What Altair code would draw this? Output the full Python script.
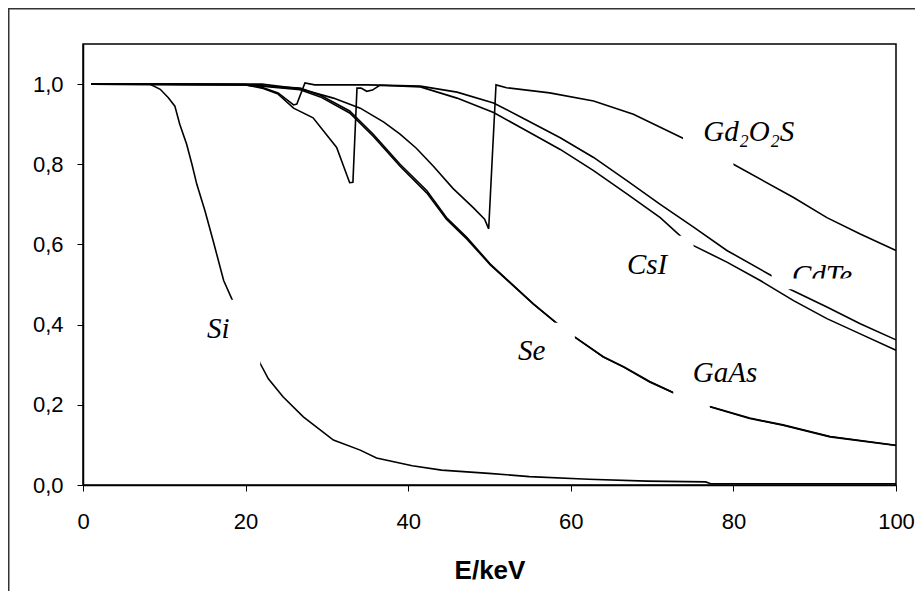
import altair as alt
import pandas as pd

# ---- curve data (E in keV, absorption efficiency) ----
si_x = [1, 5, 8.2, 9.5, 10.5, 11.3, 11.9, 12.75, 13.4, 14.0, 15.0, 16.0, 17.3, 18.4, 21.8, 22.8, 24.6, 27.1, 30.8, 34.1, 36.1, 40.5, 44.1, 49.9, 54.9, 62.2, 69.4, 76.6, 77.2, 85, 100]
si_y = [1.0, 1.0, 1.0, 0.987, 0.966, 0.945, 0.90, 0.85, 0.80, 0.75, 0.684, 0.61, 0.51, 0.46, 0.303, 0.265, 0.22, 0.17, 0.112, 0.087, 0.0675, 0.048, 0.037, 0.029, 0.021, 0.0145, 0.0096, 0.0077, 0.003, 0.003, 0.003]

gaas_x = [1, 10, 20, 22, 24, 26.7, 29.2, 32.8, 35.7, 39.0, 42.3, 44.7, 47.2, 50.1, 52.5, 55.4, 58.1, 60.5, 64.0, 66.5, 69.7, 72.6, 77.1, 82.0, 86.1, 91.9, 100]
gaas_y = [1.0, 1.0, 0.999, 0.996, 0.993, 0.99, 0.972, 0.933, 0.875, 0.80, 0.734, 0.667, 0.618, 0.551, 0.506, 0.452, 0.406, 0.369, 0.319, 0.294, 0.257, 0.23, 0.195, 0.166, 0.149, 0.12, 0.0985]

se_x = [1, 10, 20, 22, 24, 26.7, 29.2, 32.8, 35.7, 39.0, 42.3, 44.7, 47.2, 50.1, 52.5, 55.4, 58.1, 60.5, 64.0, 66.5, 69.7, 72.6, 77.1, 82.0, 86.1, 91.9, 100]
se_y = [1.0, 1.0, 0.999, 0.995, 0.991, 0.986, 0.968, 0.928, 0.870, 0.795, 0.728, 0.663, 0.614, 0.549, 0.505, 0.451, 0.406, 0.369, 0.320, 0.295, 0.258, 0.231, 0.196, 0.167, 0.150, 0.121, 0.099]

csi_x = [1, 20, 22, 24, 25.9, 28.3, 31.2, 32.8, 33.2, 33.7, 34.2, 34.9, 35.6, 36.5, 41.5, 46.0, 50.5, 54.0, 58.7, 62.8, 66.9, 71.0, 73.6, 75.1, 79.2, 83.3, 87.4, 91.5, 95.6, 100]
csi_y = [1.0, 0.998, 0.99, 0.975, 0.94, 0.916, 0.842, 0.754, 0.755, 0.99, 0.99, 0.982, 0.985, 0.997, 0.993, 0.965, 0.929, 0.89, 0.837, 0.784, 0.726, 0.667, 0.619, 0.597, 0.556, 0.51, 0.46, 0.415, 0.377, 0.336]

cdte_x = [1, 20, 22, 24, 25.9, 26.3, 27.3, 28.5, 35.0, 41.5, 46.0, 50.5, 54.6, 58.7, 62.8, 66.9, 71.0, 75.1, 79.2, 84.7, 86.9, 91.5, 95.6, 100]
cdte_y = [1.0, 0.998, 0.992, 0.978, 0.948, 0.95, 1.003, 0.998, 0.998, 0.995, 0.98, 0.953, 0.91, 0.866, 0.817, 0.759, 0.70, 0.643, 0.585, 0.522, 0.489, 0.444, 0.402, 0.362]

gd_x = [1, 22, 26.7, 30.8, 34.1, 37.0, 39.0, 41.0, 43.1, 45.5, 48.0, 49.4, 49.9, 50.3, 50.8, 52.1, 57.4, 62.8, 67.7, 73.8, 80.0, 87.4, 91.5, 95.6, 100]
gd_y = [1.0, 1.0, 0.988, 0.965, 0.94, 0.905, 0.875, 0.84, 0.795, 0.74, 0.692, 0.663, 0.639, 0.80, 0.998, 0.991, 0.978, 0.958, 0.925, 0.865, 0.80, 0.717, 0.667, 0.626, 0.585]

# ---- curve labels ----
label_text = ["Gd\u2082O\u2082S", "CsI", "CdTe", "Se", "GaAs", "Si"]
label_x = [76.3, 66.9, 87.2, 53.5, 75.0, 15.25]
label_y = [0.858, 0.527, 0.4995, 0.311, 0.256, 0.366]

# white label boxes (data coordinates)
box_x = [73.8, 66.0, 53.0, 72.6, 15.0]
box_x2 = [80.0, 75.1, 60.5, 77.1, 21.8]
box_y = [0.795, 0.50, 0.30, 0.19, 0.30]
box_y2 = [0.87, 0.622, 0.405, 0.32, 0.462]

cdte_box_x, cdte_box_x2, cdte_box_y, cdte_box_y2 = [84.7], [95.5], [0.488], [0.56]
clip_x, clip_x2, clip_y, clip_y2 = [87.0], [95.5], [0.494], [0.515]

series = [("Si", si_x, si_y), ("GaAs", gaas_x, gaas_y), ("Se", se_x, se_y),
          ("CsI", csi_x, csi_y), ("CdTe", cdte_x, cdte_y), ("Gd2O2S", gd_x, gd_y)]
rows = []
for name, xs, ys in series:
    for i, (x, y) in enumerate(zip(xs, ys)):
        rows.append({"series": name, "E": x, "eff": y, "idx": i})
df = pd.DataFrame(rows)

xscale = alt.Scale(domain=[0, 100], nice=False, zero=False)
yscale = alt.Scale(domain=[0, 1.1], nice=False)

xenc = alt.X("E:Q", scale=xscale,
             axis=alt.Axis(values=[0, 20, 40, 60, 80, 100], title="E/keV",
                           titleFont="Liberation Sans", titleFontSize=26, titleFontWeight="bold",
                           titleColor="black", titleY=93, titleBaseline="alphabetic",
                           labelPadding=20, labelFlush=False, labelOverlap=False))
yenc = alt.Y("eff:Q", scale=yscale,
             axis=alt.Axis(values=[0, 0.2, 0.4, 0.6, 0.8, 1.0], title=None,
                           labelExpr="replace(format(datum.value, '.1f'), '.', ',')",
                           labelPadding=14, labelFlush=False, labelOverlap=False))

base = alt.Chart(df)

def line_for(names, width=1.6):
    return base.transform_filter(
        alt.FieldOneOfPredicate(field="series", oneOf=names)
    ).mark_line(color="black", strokeWidth=width).encode(
        x=xenc, y=yenc, detail="series:N", order="idx:Q")

cdte_line = line_for(["CdTe"])
other_lines = line_for(["Si", "GaAs", "Se", "CsI", "Gd2O2S"])

def boxes(xa, xb, ya, yb):
    d = pd.DataFrame({"x": xa, "x2": xb, "y": ya, "y2": yb})
    return alt.Chart(d).mark_rect(color="white").encode(
        x=alt.X("x:Q", scale=xscale), x2="x2:Q",
        y=alt.Y("y:Q", scale=yscale), y2="y2:Q")

cdte_box = boxes(cdte_box_x, cdte_box_x2, cdte_box_y, cdte_box_y2)
label_boxes = boxes(box_x, box_x2, box_y, box_y2)
clip_box = boxes(clip_x, clip_x2, clip_y, clip_y2)

labels = alt.Chart(pd.DataFrame({"t": label_text, "x": label_x, "y": label_y})).mark_text(
    font="Liberation Serif", fontStyle="italic", fontSize=29, align="left",
    baseline="alphabetic", color="black").encode(
    x=alt.X("x:Q", scale=xscale), y=alt.Y("y:Q", scale=yscale), text="t:N")

border = alt.Chart(pd.DataFrame({"a": [0]})).mark_rect(
    fillOpacity=0, stroke="#333333", strokeWidth=1.5).encode(
    x=alt.value(-74.25), x2=alt.value(1000), y=alt.value(-35.25), y2=alt.value(1000))

chart = alt.layer(
    cdte_line, cdte_box, other_lines, label_boxes, labels, clip_box, border
).properties(
    width=813, height=441,
    padding={"left": 75, "top": 36, "right": 19, "bottom": 106},
    autosize=alt.AutoSizeParams(type="none"),
    background="white",
).configure_view(
    stroke="black", strokeWidth=1.5
).configure_axis(
    grid=False, domainColor="black", domainWidth=1.5, tickColor="black",
    tickWidth=1, tickSize=6, labelFont="Liberation Sans", labelFontSize=22,
    labelColor="black"
)

chart.save("out.html", embed_options={"renderer": "svg", "actions": False})
